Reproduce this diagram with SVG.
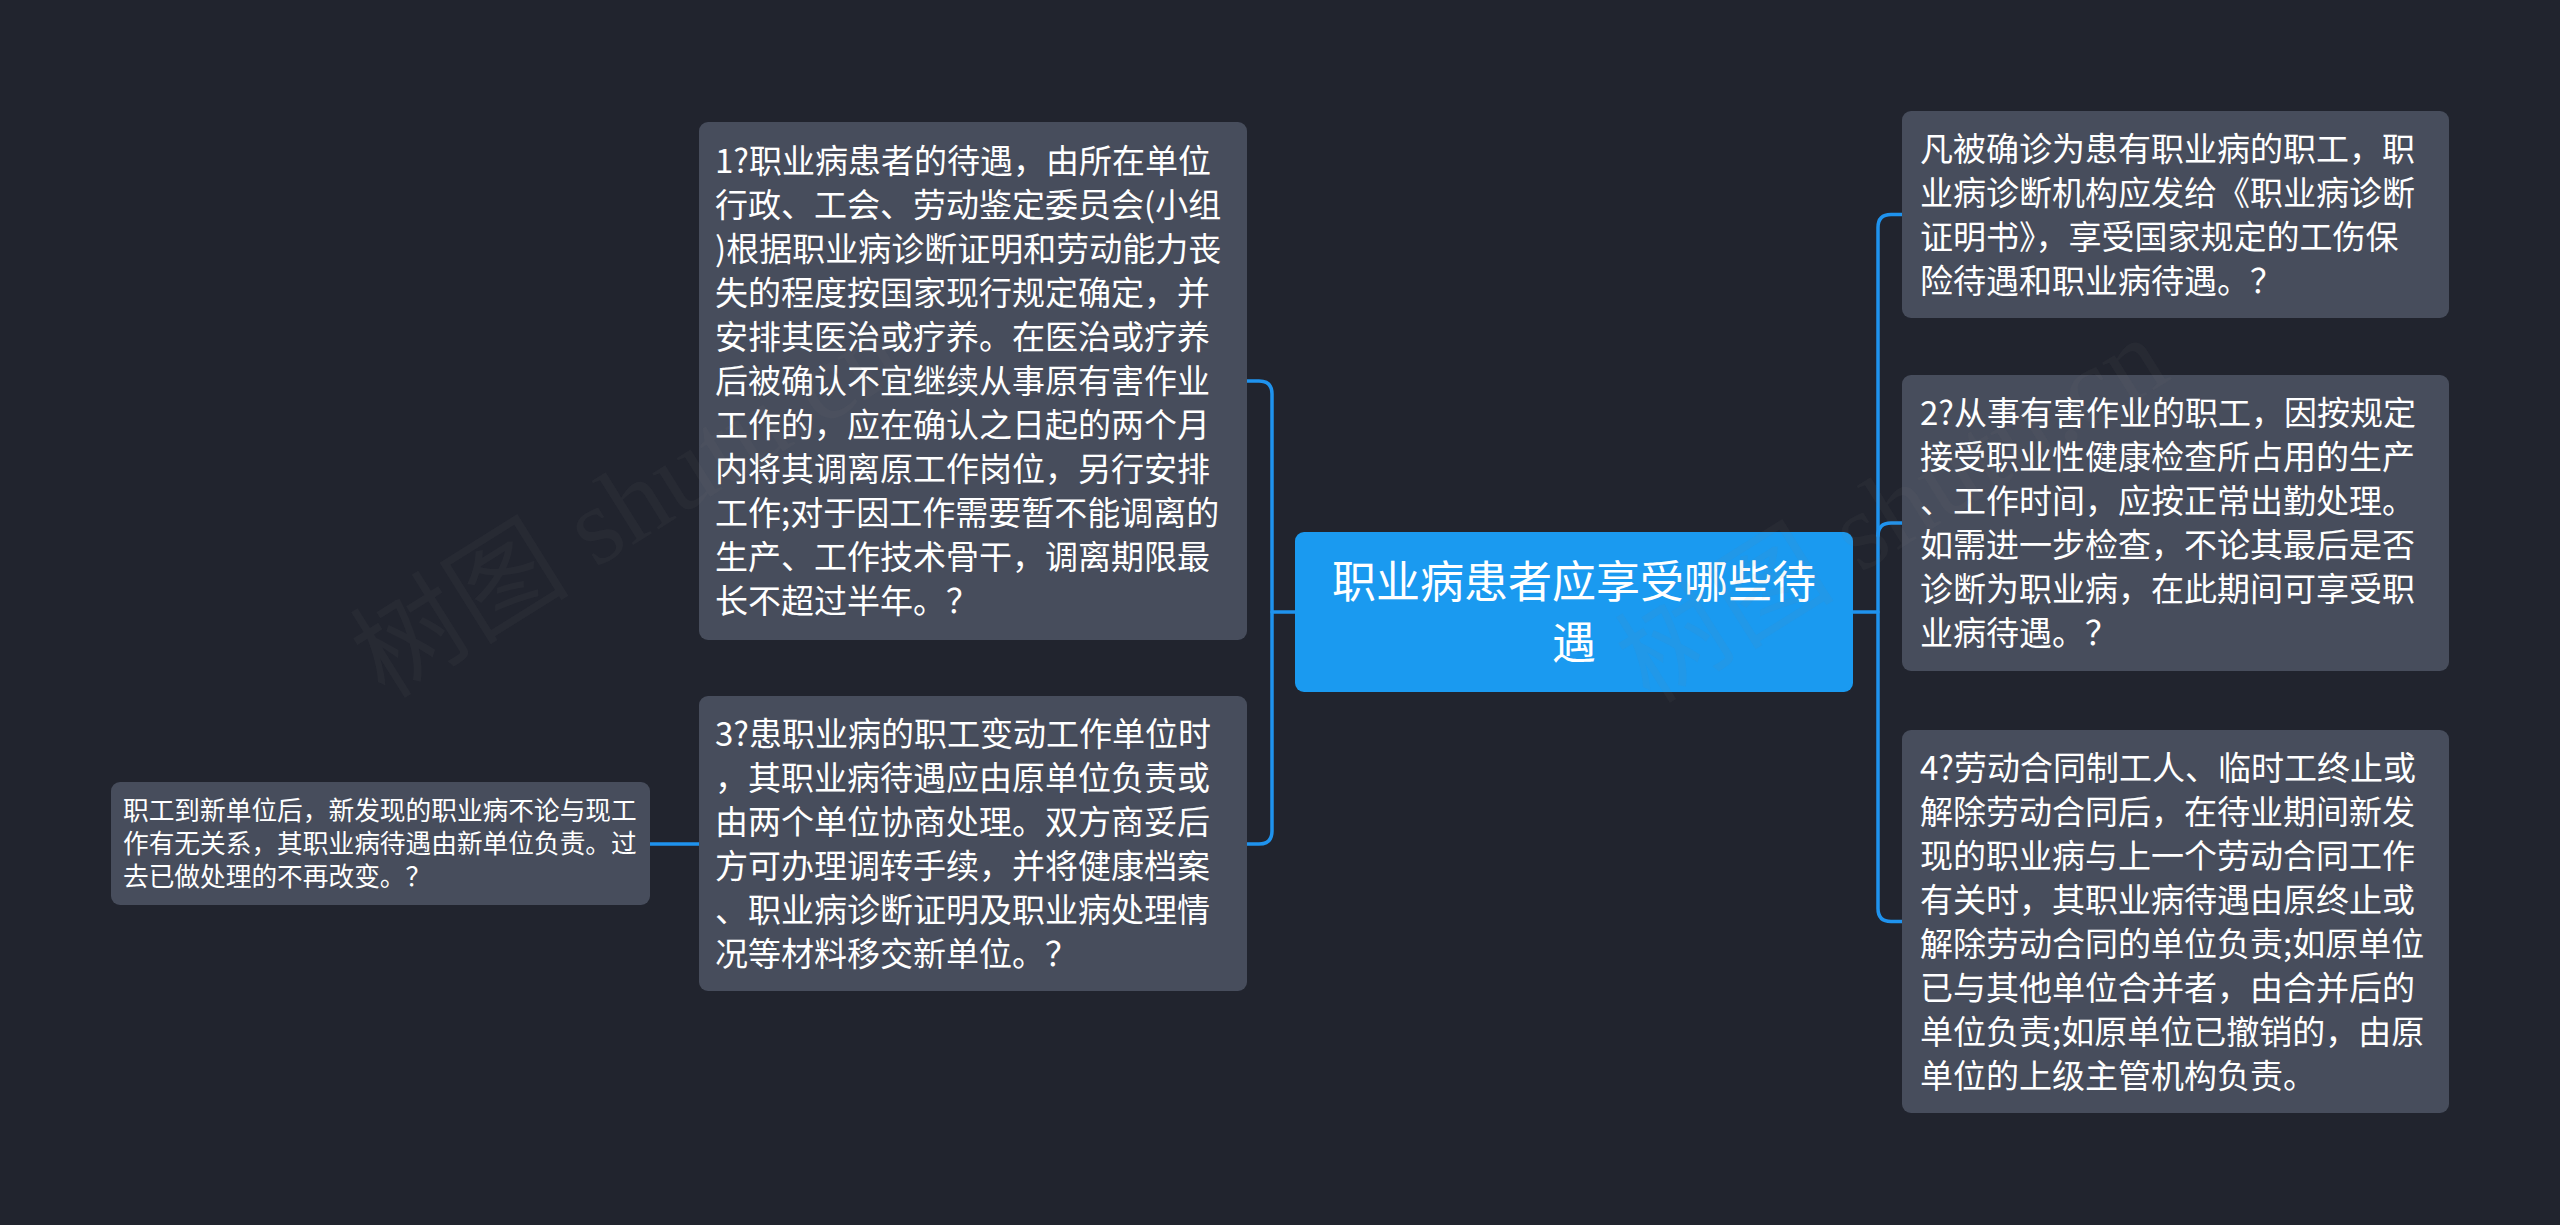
<svg xmlns="http://www.w3.org/2000/svg" width="2560" height="1225" viewBox="0 0 2560 1225">
<style>
.bg{fill:#21242e}
.box{fill:#474d5c}
.root{fill:#1a9af0}
.t{font-family:"Noto Sans CJK SC","Noto Sans",sans-serif;fill:#ffffff;font-size:33px}
.ts{font-family:"Noto Sans CJK SC","Noto Sans",sans-serif;fill:#ffffff;font-size:25.7px}
.tr{font-family:"Noto Sans CJK SC","Noto Sans",sans-serif;fill:#ffffff;font-size:44px;text-anchor:middle}
.c{fill:none;stroke:#1f93ee;stroke-width:3.5;stroke-linecap:round}
.wm{font-family:"Liberation Serif","Noto Sans CJK SC",serif;font-size:110px;fill:#808080;fill-opacity:0.07}
</style>
<rect class="bg" x="0" y="0" width="2560" height="1225"/>
<g id="connectors">
<path class="c" d="M1247,381 H1259 Q1272,381 1272,394 V831 Q1272,844 1259,844 H1247"/>
<path class="c" d="M1272,612 H1295"/>
<path class="c" d="M650,844 H699"/>
<path class="c" d="M1853,612 H1878"/>
<path class="c" d="M1902,214.5 H1891 Q1878,214.5 1878,227.5 V908.5 Q1878,921.5 1891,921.5 H1902"/>
<path class="c" d="M1878,536 Q1878,523 1891,523 H1902"/>
</g>
<g id="root">
<rect class="root" x="1295" y="532" width="558" height="160" rx="9"/>
<text class="tr" x="1574" y="598">职业病患者应享受哪些待</text>
<text class="tr" x="1574" y="659">遇</text>
</g>
<g id="node1">
<rect class="box" x="699" y="122" width="548" height="518" rx="9"/>
<text class="t">
<tspan x="715" y="173">1?职业病患者的待遇，由所在单位</tspan>
<tspan x="715" y="217">行政、工会、劳动鉴定委员会(小组</tspan>
<tspan x="715" y="261">)根据职业病诊断证明和劳动能力丧</tspan>
<tspan x="715" y="305">失的程度按国家现行规定确定，并</tspan>
<tspan x="715" y="349">安排其医治或疗养。在医治或疗养</tspan>
<tspan x="715" y="393">后被确认不宜继续从事原有害作业</tspan>
<tspan x="715" y="437">工作的，应在确认之日起的两个月</tspan>
<tspan x="715" y="481">内将其调离原工作岗位，另行安排</tspan>
<tspan x="715" y="525">工作;对于因工作需要暂不能调离的</tspan>
<tspan x="715" y="569">生产、工作技术骨干，调离期限最</tspan>
<tspan x="715" y="613">长不超过半年。？</tspan>
</text>
</g>
<g id="node3">
<rect class="box" x="699" y="696" width="548" height="295" rx="9"/>
<text class="t">
<tspan x="715" y="746">3?患职业病的职工变动工作单位时</tspan>
<tspan x="715" y="790">，其职业病待遇应由原单位负责或</tspan>
<tspan x="715" y="834">由两个单位协商处理。双方商妥后</tspan>
<tspan x="715" y="878">方可办理调转手续，并将健康档案</tspan>
<tspan x="715" y="922">、职业病诊断证明及职业病处理情</tspan>
<tspan x="715" y="966">况等材料移交新单位。？</tspan>
</text>
</g>
<g id="node3a">
<rect class="box" x="111" y="782" width="539" height="123" rx="9"/>
<text class="ts">
<tspan x="123" y="820">职工到新单位后，新发现的职业病不论与现工</tspan>
<tspan x="123" y="853">作有无关系，其职业病待遇由新单位负责。过</tspan>
<tspan x="123" y="886">去已做处理的不再改变。？</tspan>
</text>
</g>
<g id="nodeR1">
<rect class="box" x="1902" y="111" width="547" height="207" rx="9"/>
<text class="t">
<tspan x="1920" y="161">凡被确诊为患有职业病的职工，职</tspan>
<tspan x="1920" y="205">业病诊断机构应发给《职业病诊断</tspan>
<tspan x="1920" y="249">证明书》，享受国家规定的工伤保</tspan>
<tspan x="1920" y="293">险待遇和职业病待遇。？</tspan>
</text>
</g>
<g id="nodeR2">
<rect class="box" x="1902" y="375" width="547" height="296" rx="9"/>
<text class="t">
<tspan x="1920" y="425">2?从事有害作业的职工，因按规定</tspan>
<tspan x="1920" y="469">接受职业性健康检查所占用的生产</tspan>
<tspan x="1920" y="513">、工作时间，应按正常出勤处理。</tspan>
<tspan x="1920" y="557">如需进一步检查，不论其最后是否</tspan>
<tspan x="1920" y="601">诊断为职业病，在此期间可享受职</tspan>
<tspan x="1920" y="645">业病待遇。？</tspan>
</text>
</g>
<g id="nodeR4">
<rect class="box" x="1902" y="730" width="547" height="383" rx="9"/>
<text class="t">
<tspan x="1920" y="780">4?劳动合同制工人、临时工终止或</tspan>
<tspan x="1920" y="824">解除劳动合同后，在待业期间新发</tspan>
<tspan x="1920" y="868">现的职业病与上一个劳动合同工作</tspan>
<tspan x="1920" y="912">有关时，其职业病待遇由原终止或</tspan>
<tspan x="1920" y="956">解除劳动合同的单位负责;如原单位</tspan>
<tspan x="1920" y="1000">已与其他单位合并者，由合并后的</tspan>
<tspan x="1920" y="1044">单位负责;如原单位已撤销的，由原</tspan>
<tspan x="1920" y="1088">单位的上级主管机构负责。</tspan>
</text>
</g>
<g id="watermark">
<text class="wm" transform="translate(385,700) rotate(-32)">树图 shutu.cn</text>
<text class="wm" transform="translate(1650,705) rotate(-32)">树图 shutu.cn</text>
</g>
</svg>
